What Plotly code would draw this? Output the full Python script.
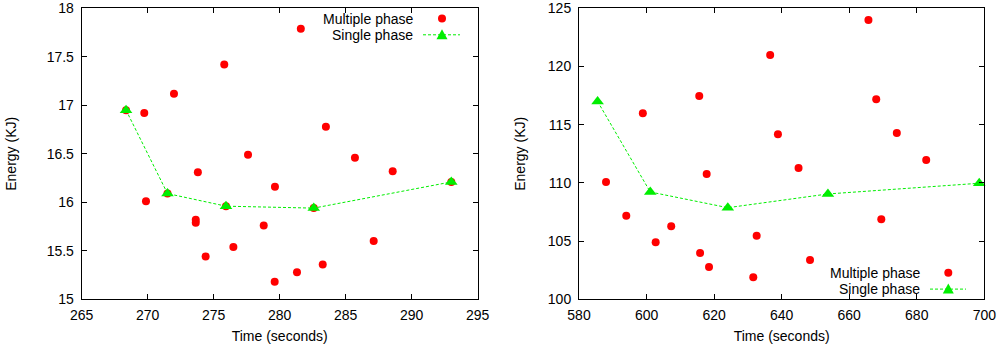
import plotly.graph_objects as go

# ---------------- data ----------------
# Left panel: multiple phase
left_multi_time = [268.36, 269.74, 271.99, 275.80, 277.60, 273.80, 281.60, 283.50, 285.70, 288.56,
                   269.87, 271.50, 273.64, 273.64, 274.39, 276.49, 275.93, 279.64, 278.79, 287.12,
                   279.62, 281.31, 283.26, 282.58, 293.00]
left_multi_energy = [16.95, 16.92, 17.12, 17.42, 16.49, 16.31, 17.79, 16.78, 16.46, 16.32,
                     16.01, 16.09, 15.82, 15.79, 15.44, 15.54, 15.96, 16.16, 15.76, 15.60,
                     15.18, 15.28, 15.36, 15.94, 16.21]
# Left panel: single phase
left_single_time = [268.36, 271.50, 275.93, 282.58, 293.00]
left_single_energy = [16.95, 16.09, 15.96, 15.94, 16.21]

# Right panel: multiple phase
right_multi_time = [598.9, 615.6, 617.8, 665.7, 636.6, 668.0, 638.9, 674.1, 645.0, 682.8,
                    588.0, 594.0, 607.3, 602.7, 615.85, 618.5, 669.5, 632.6, 648.4, 631.6]
right_multi_energy = [115.98, 117.47, 110.76, 124.0, 120.99, 117.18, 114.18, 114.29, 111.28, 111.97,
                      110.08, 107.18, 106.27, 104.9, 103.98, 102.77, 106.87, 105.47, 103.38, 101.89]
# Right panel: single phase
right_single_time = [585.5, 601.1, 624.06, 653.7, 698.5]
right_single_energy = [117.0, 109.22, 107.87, 109.05, 109.97]

left_xticks = [265, 270, 275, 280, 285, 290, 295]
left_yticks = [15, 15.5, 16, 16.5, 17, 17.5, 18]
right_xticks = [580, 600, 620, 640, 660, 680, 700]
right_yticks = [100, 105, 110, 115, 120, 125]

series_names = ["Multiple phase", "Single phase"]
x_title = "Time (seconds)"
y_title = "Energy (KJ)"

RED = "#ff0000"
GREEN = "#00ee00"
FONT = "Liberation Sans, Arial, sans-serif"
FS = 14
W, H = 998, 347

fig = go.Figure()

def add_panel(xa, ya, mt, me, st, se):
    fig.add_trace(go.Scatter(x=mt, y=me, mode="markers", name=series_names[0],
                             marker=dict(symbol="circle", size=8, color=RED),
                             xaxis=xa, yaxis=ya, showlegend=False, cliponaxis=False))
    fig.add_trace(go.Scatter(x=st, y=se, mode="lines+markers", name=series_names[1],
                             line=dict(color=GREEN, width=1, dash="3px,2px"),
                             marker=dict(symbol="triangle-up", size=11, color=GREEN),
                             xaxis=xa, yaxis=ya, showlegend=False, cliponaxis=False))

add_panel("x", "y", left_multi_time, left_multi_energy, left_single_time, left_single_energy)
add_panel("x2", "y2", right_multi_time, right_multi_energy, right_single_time, right_single_energy)

ydom = [(H - 299.3) / H, (H - 8.3) / H]
axis_common = dict(showline=True, linecolor="black", linewidth=1, mirror="ticks",
                   ticks="inside", ticklen=5, tickcolor="black", tickwidth=1,
                   showgrid=False, zeroline=False, automargin=False,
                   tickfont=dict(family=FONT, size=FS, color="black"))

fig.update_layout(
    width=W, height=H,
    margin=dict(l=0, r=0, t=0, b=0),
    paper_bgcolor="white", plot_bgcolor="white",
    showlegend=False,
    font=dict(family=FONT, size=FS, color="black"),
    xaxis=dict(domain=[81.7 / W, 477.7 / W], range=[265, 295], tickvals=left_xticks,
               ticklabelstandoff=3,
               title=dict(text=x_title, standoff=9, font=dict(family=FONT, size=FS)), anchor="y",
               **axis_common),
    yaxis=dict(domain=ydom, range=[15, 18], tickvals=left_yticks, ticklabelstandoff=4,
               title=dict(text=y_title, standoff=26, font=dict(family=FONT, size=FS)), anchor="x",
               **axis_common),
    xaxis2=dict(domain=[579 / W, 984.3 / W], range=[580, 700], tickvals=right_xticks,
                ticklabelstandoff=3,
                title=dict(text=x_title, standoff=9, font=dict(family=FONT, size=FS)), anchor="y2",
                **axis_common),
    yaxis2=dict(domain=ydom, range=[100, 125], tickvals=right_yticks, ticklabelstandoff=4,
                title=dict(text=y_title, standoff=18, font=dict(family=FONT, size=FS)), anchor="x2",
                **axis_common),
)

# gnuplot-style keys: text right-aligned, sample on the right
def add_key(text_right, sample_x, line_x0, line_x1, y_multi, y_single):
    for label, yy in zip(series_names, [y_multi, y_single]):
        fig.add_annotation(x=text_right / W, y=(H - yy) / H, xref="paper", yref="paper",
                           text=label, showarrow=False, xanchor="right", yanchor="middle",
                           borderpad=0,
                           font=dict(family=FONT, size=FS, color="black"))
    r = 4
    fig.add_shape(type="circle", xref="paper", yref="paper",
                  x0=(sample_x - r) / W, x1=(sample_x + r) / W,
                  y0=(H - y_multi - r) / H, y1=(H - y_multi + r) / H,
                  fillcolor=RED, line=dict(width=0))
    fig.add_shape(type="line", xref="paper", yref="paper",
                  x0=line_x0 / W, x1=line_x1 / W, y0=(H - y_single) / H, y1=(H - y_single) / H,
                  line=dict(color=GREEN, width=1, dash="3px,2px"))
    tx = sample_x
    path = "M {:.5f},{:.5f} L {:.5f},{:.5f} L {:.5f},{:.5f} Z".format(
        (tx - 5.5) / W, (H - y_single - 4.5) / H,
        (tx + 5.5) / W, (H - y_single - 4.5) / H,
        tx / W, (H - y_single + 5.5) / H)
    fig.add_shape(type="path", xref="paper", yref="paper", path=path,
                  fillcolor=GREEN, line=dict(width=0))

add_key(414.3, 442, 423, 460, 18.5, 34.8)
add_key(920.7, 948.3, 930, 966, 272.8, 289.1)

fig.write_html("out.html", config={"displayModeBar": False},
               post_script="document.body.style.margin='0';")
